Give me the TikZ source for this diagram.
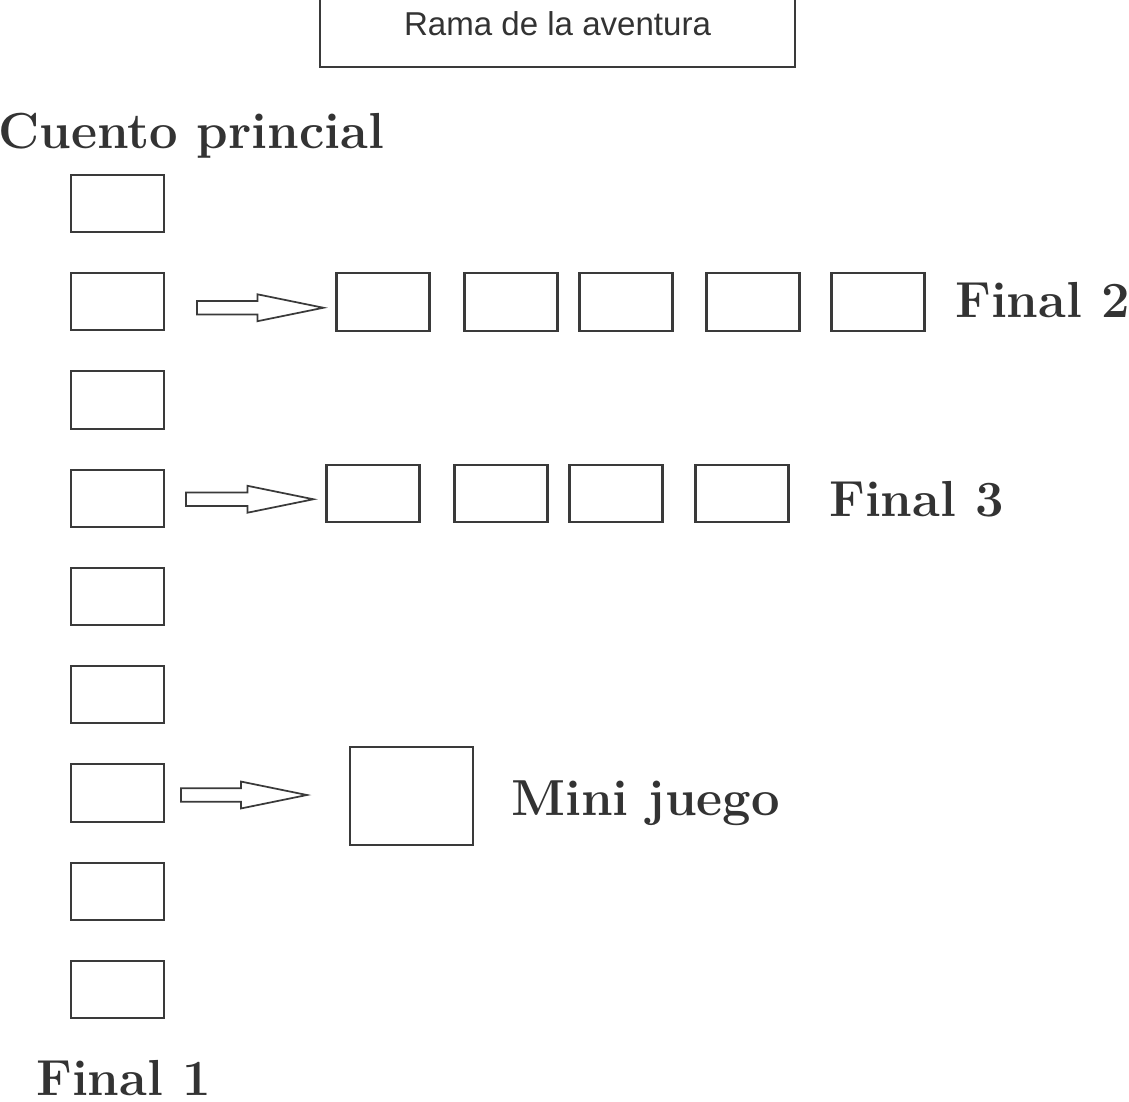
\documentclass[tikz,border=0pt]{standalone}
\usepackage{fontspec}
\usetikzlibrary{calc}
\newfontfamily\ramafont{Liberation Sans}
\definecolor{inkgray}{HTML}{3A3A3A}
\definecolor{txtgray}{HTML}{333333}
\tikzset{
  scenebox/.style={draw=inkgray, line width=1.6pt, fill=white, inner sep=0pt,
                   minimum width=69.75pt, minimum height=43pt},
  gamebox/.style={scenebox, minimum width=92.25pt, minimum height=73.5pt},
  branchbox/.style={draw=inkgray, line width=1.2pt, inner sep=0pt, text=txtgray,
                    minimum width=356.25pt, minimum height=64.5pt,
                    font=\ramafont\fontsize{24.8}{28}\selectfont},
  titletext/.style={anchor=base west, inner sep=0pt, text=txtgray,
                    font=\fontsize{38}{42}\selectfont\bfseries},
  hollowarr/.style={draw=inkgray, line width=1.3pt, fill=white, line join=miter}}
% hollow block arrow from #1 (tail) to #2 (tip)
\newcommand\blockarrow[2]{%
  \draw[hollowarr] let \p1=(#1), \p2=(#2) in
    (\x1,\y1-5.1pt) -- (\x2-49.5pt,\y1-5.1pt) -- (\x2-49.5pt,\y1-10.1pt) -- (\x2,\y1)
    -- (\x2-49.5pt,\y1+10.1pt) -- (\x2-49.5pt,\y1+5.1pt) -- (\x1,\y1+5.1pt) -- cycle;}

\begin{document}
\begin{tikzpicture}[x=0.75pt, y=-0.75pt]
    \clip (0,0) rectangle (1129,1101);
    \useasboundingbox (0,0) rectangle (1129,1101);
    \node[branchbox] (rama) at (557.5,24) {Rama de la aventura};
    \node[titletext] (cuento) at (-2,148) {Cuento princial};
    % main story column
    \foreach \i in {1,...,9}
      \node[scenebox] (l\i) at (117.5,{203.5+98.25*(\i-1)}) {};
    % branch to final 2
    \foreach \x [count=\j] in {383,511,626,753,878}
      \node[scenebox] (a\j) at (\x,302) {};
    \node[titletext] (fin2) at (955,317) {Final 2};
    % branch to final 3
    \foreach \x [count=\j] in {373,501,616,742}
      \node[scenebox] (b\j) at (\x,493.5) {};
    \node[titletext] (fin3) at (829,516) {Final 3};
    % mini game
    \node[gamebox] (mini) at (411.5,796) {};
    \node[titletext] (minitxt) at (511,815) {Mini juego};
    \node[titletext, text depth=0pt] (fin1) at (36,1095) {Final 1};
    % arrows
    \coordinate (s2) at ($(l2.east)+(32,6)$);
    \coordinate (t2) at ($(a1.west)+(-12,6)$);
    \coordinate (s4) at ($(l4.east)+(21,1)$);
    \coordinate (t4) at ($(b1.west)+(-12,1)$);
    \coordinate (s7) at ($(l7.east)+(16,2)$);
    \coordinate (t7) at ($(mini.west)+(-42,-1)$);
    \blockarrow{s2}{t2}
    \blockarrow{s4}{t4}
    \blockarrow{s7}{t7}
  \end{tikzpicture}
\end{document}
